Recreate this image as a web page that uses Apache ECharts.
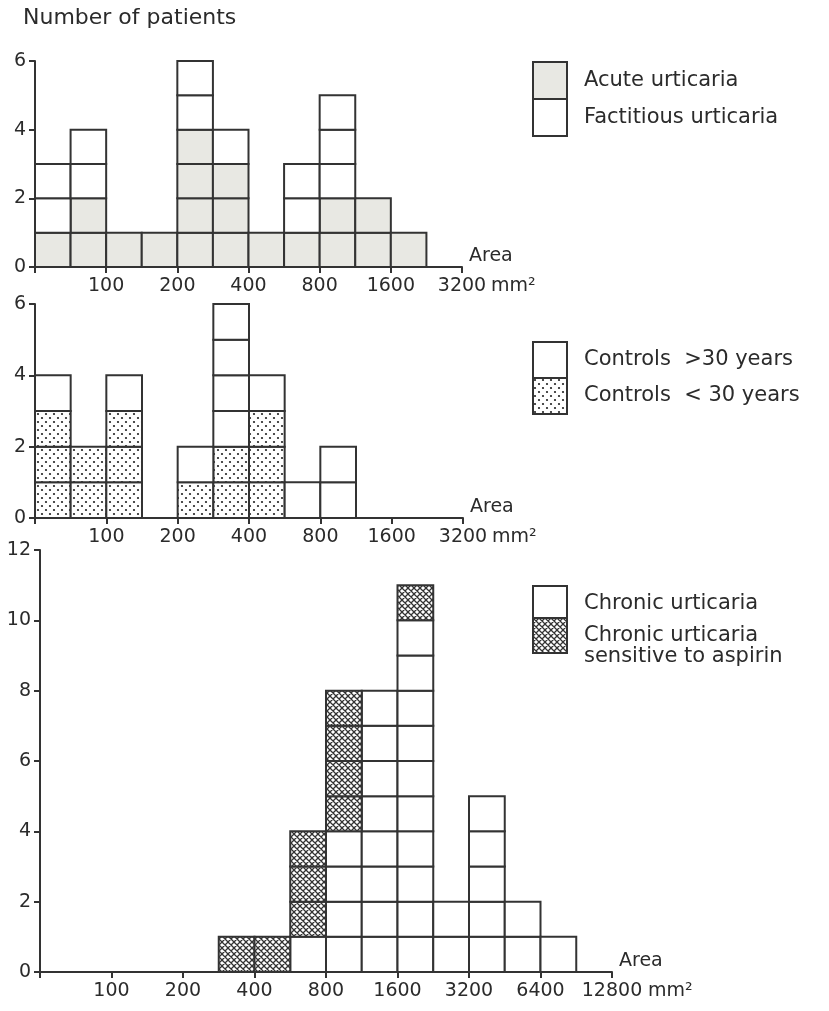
<!DOCTYPE html>
<html lang="en">
<head>
    <meta charset="UTF-8">
    <title>Urticaria area histograms</title>
    <style>
        html, body { margin: 0; padding: 0; background: #fff; }
        #main { width: 829px; height: 1011px; }
    </style>
</head>
<body>
<div id="main"></div>

<script src="https://cdn.jsdelivr.net/npm/echarts@6/dist/echarts.min.js"></script>
<script>
    // half-octave bins, bin 0 starts at 50 mm2
    var topTicks = ['100', '200', '400', '800', '1600', '3200'];
    var bottomTicks = ['100', '200', '400', '800', '1600', '3200', '6400', '12800'];

    // panel 1
    var acute = [1, 2, 1, 1, 4, 3, 1, 1, 2, 2, 1, 0];
    var factitious = [2, 2, 0, 0, 2, 1, 0, 2, 3, 0, 0, 0];
    // panel 2
    var controlsYoung = [3, 2, 3, 0, 1, 2, 3, 0, 0, 0, 0, 0];
    var controlsOld = [1, 0, 1, 0, 1, 4, 1, 1, 2, 0, 0, 0];
    // panel 3
    var chronic = [0, 0, 0, 0, 0, 0, 0, 1, 4, 8, 10, 2, 5, 2, 1, 0];
    var aspirin = [0, 0, 0, 0, 0, 1, 1, 3, 4, 0, 1, 0, 0, 0, 0, 0];

    var FONT = 'DejaVu Sans';
    var INK = '#2b2b2b';

    function dotPattern() {
        var c = document.createElement('canvas');
        c.width = 8; c.height = 8;
        var g = c.getContext('2d');
        g.fillStyle = '#fff';
        g.fillRect(0, 0, 8, 8);
        g.fillStyle = '#222';
        g.beginPath(); g.arc(2, 2, 1.1, 0, Math.PI * 2); g.fill();
        g.beginPath(); g.arc(6, 6, 1.1, 0, Math.PI * 2); g.fill();
        return {image: c, repeat: 'repeat'};
    }

    function hatchPattern() {
        var c = document.createElement('canvas');
        c.width = 6; c.height = 6;
        var g = c.getContext('2d');
        g.fillStyle = '#fff';
        g.fillRect(0, 0, 6, 6);
        g.strokeStyle = '#333';
        g.lineWidth = 1.3;
        g.beginPath();
        [-6, 0, 6].forEach(function (o) {
            g.moveTo(o, 0); g.lineTo(o + 6, 6);
            g.moveTo(o, 6); g.lineTo(o + 6, 0);
        });
        g.stroke();
        return {image: c, repeat: 'repeat'};
    }

    var GRAY = '#e8e8e3';
    var DOTS = dotPattern();
    var HATCH = hatchPattern();

    // [bin, base, count]
    function cells(counts, below) {
        return counts.map(function (n, i) {
            return [i, below ? below[i] : 0, n];
        });
    }

    function stackSeries(name, idx, counts, below, fill) {
        return {
            name: name,
            type: 'custom',
            xAxisIndex: idx,
            yAxisIndex: idx,
            itemStyle: {color: fill},
            data: cells(counts, below),
            renderItem: function (params, api) {
                var x = api.value(0), base = api.value(1), n = api.value(2);
                var children = [];
                for (var k = 0; k < n; k++) {
                    var p0 = api.coord([x, base + k + 1]);
                    var p1 = api.coord([x + 1, base + k]);
                    children.push({
                        type: 'rect',
                        shape: {x: p0[0], y: p0[1], width: p1[0] - p0[0], height: p1[1] - p0[1]},
                        style: {fill: fill, stroke: '#333', lineWidth: 2}
                    });
                }
                return {type: 'group', children: children};
            }
        };
    }

    // name = "Area" above the axis end, "mm²" on the label row after the last tick label
    function xAxisFor(idx, maxBin, ticks, unitShift) {
        return {
            type: 'value',
            gridIndex: idx,
            min: 0,
            max: maxBin,
            interval: 2,
            name: '{a|Area}\n{b|mm²}',
            nameLocation: 'end',
            nameGap: 7,
            nameMoveOverlap: false,
            nameTextStyle: {
                fontFamily: FONT, fontSize: 19, color: INK,
                rich: {
                    a: {fontFamily: FONT, fontSize: 19, color: INK, lineHeight: 38},
                    b: {fontFamily: FONT, fontSize: 19, color: INK, lineHeight: 22, padding: [0, 0, 0, unitShift]}
                }
            },
            axisLine: {show: true, lineStyle: {color: '#333', width: 2}},
            axisTick: {show: true, length: 6, lineStyle: {color: '#333', width: 2}},
            splitLine: {show: false},
            axisLabel: {
                margin: 10,
                fontFamily: FONT,
                fontSize: 19,
                color: INK,
                formatter: function (v) {
                    if (v === 0) return '';
                    return ticks[v / 2 - 1];
                }
            }
        };
    }

    function yAxisFor(idx, maxVal) {
        return {
            type: 'value',
            gridIndex: idx,
            min: 0,
            max: maxVal,
            interval: 2,
            axisLine: {show: true, lineStyle: {color: '#333', width: 2}},
            axisTick: {show: true, length: 6, lineStyle: {color: '#333', width: 2}},
            splitLine: {show: false},
            axisLabel: {margin: 9, fontFamily: FONT, fontSize: 19, color: INK}
        };
    }

    function legendFor(top, itemH, gap, items) {
        return {
            orient: 'vertical',
            left: 532,
            top: top,
            padding: 0,
            itemGap: gap,
            itemWidth: 34,
            itemHeight: itemH,
            icon: 'rect',
            selectedMode: false,
            textStyle: {fontFamily: FONT, fontSize: 21, color: INK, lineHeight: 21, padding: [0, 0, 0, 12]},
            data: items.map(function (it) {
                return {name: it.name, itemStyle: {color: it.fill, borderColor: '#333', borderWidth: 2}};
            })
        };
    }

    var sumTop = acute;
    var sumMid = controlsYoung;
    var sumBot = chronic;

    var nameAspirin = 'Chronic urticaria\nsensitive to aspirin';

    // two-line label: an empty first line keeps "Chronic urticaria" level with its box
    var bottomLegend = legendFor(585, 35, -18, [
        {name: 'Chronic urticaria', fill: '#fff'},
        {name: nameAspirin, fill: HATCH}
    ]);
    bottomLegend.formatter = function (name) {
        return name === nameAspirin ? '\n' + name : name;
    };

    var chart = echarts.init(document.getElementById('main'));
    chart.setOption({
        animation: false,
        backgroundColor: '#fff',
        title: {
            text: 'Number of patients',
            left: 18,
            top: 2,
            textStyle: {fontFamily: FONT, fontSize: 22, fontWeight: 'normal', color: INK}
        },
        grid: [
            {left: 35, top: 61, width: 427, height: 206},
            {left: 35, top: 304, width: 428, height: 214},
            {left: 40, top: 550, width: 572, height: 422}
        ],
        xAxis: [
            xAxisFor(0, 12, topTicks, 22),
            xAxisFor(1, 12, topTicks, 22),
            xAxisFor(2, 16, bottomTicks, 29)
        ],
        yAxis: [
            yAxisFor(0, 6),
            yAxisFor(1, 6),
            yAxisFor(2, 12)
        ],
        legend: [
            legendFor(61, 37, -2, [
                {name: 'Acute urticaria', fill: GRAY},
                {name: 'Factitious urticaria', fill: '#fff'}
            ]),
            legendFor(341, 36, -2, [
                {name: 'Controls  >30 years', fill: '#fff'},
                {name: 'Controls  < 30 years', fill: DOTS}
            ]),
            bottomLegend
        ],
        series: [
            stackSeries('Acute urticaria', 0, acute, null, GRAY),
            stackSeries('Factitious urticaria', 0, factitious, sumTop, '#fff'),
            stackSeries('Controls  < 30 years', 1, controlsYoung, null, DOTS),
            stackSeries('Controls  >30 years', 1, controlsOld, sumMid, '#fff'),
            stackSeries('Chronic urticaria', 2, chronic, null, '#fff'),
            stackSeries(nameAspirin, 2, aspirin, sumBot, HATCH)
        ]
    });
</script>
</body>
</html>
